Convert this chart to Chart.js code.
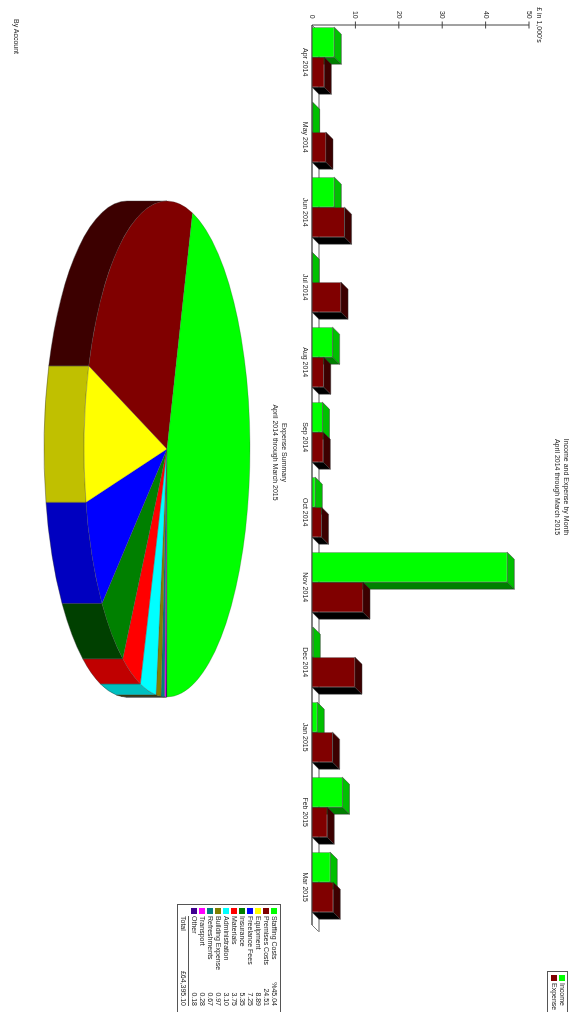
<!DOCTYPE html>
<html>
<head>
<meta charset="utf-8">
<title>Income and Expense</title>
<script src="https://cdn.jsdelivr.net/npm/chart.js@4"></script>
<style>
html, body { margin: 0; padding: 0; background: #fff; width: 585px; height: 1012px; overflow: hidden; }
/* the whole report was scanned sideways, so lay it out flat and turn it */
#page { position: absolute; left: 585px; top: 0; width: 1012px; height: 585px; overflow: hidden; background: #fff;
        transform-origin: 0 0; transform: rotate(90deg); will-change: transform; font: 7px "Liberation Sans", sans-serif; color: #222; }
canvas { position: absolute; }
#barChart { left: 0; top: 0; }
#pieChart { left: 193px; top: 295px; }
.box { position: absolute; border: 1px solid #555; box-sizing: border-box; background: #fff; }
.row { position: absolute; left: 0; right: 0; height: 8px; line-height: 8px; white-space: nowrap; }
.sw { position: absolute; width: 6px; height: 6px; top: 1px; }
.val { position: absolute; text-align: right; }
#account { position: absolute; left: 19px; top: 565px; line-height: 8px; }
</style>
</head>
<body>
<div id="page">
    <canvas id="barChart" width="974" height="290"></canvas>
    <canvas id="pieChart" width="520" height="290"></canvas>
    <div class="box" id="barLegend" style="left:971px;top:17px;width:60px;height:21px"></div>
    <div class="box" id="pieLegend" style="left:904px;top:304px;width:130px;height:104px"></div>
    <div id="account">By Account</div>
</div>
<script>
const months = ["Apr 2014", "May 2014", "Jun 2014", "Jul 2014", "Aug 2014", "Sep 2014", "Oct 2014", "Nov 2014", "Dec 2014", "Jan 2015", "Feb 2015", "Mar 2015"];
const income = [5.15, 0.15, 5.15, 0.05, 4.75, 2.4, 0.77, 45.0, 0.3, 1.2, 7.0, 4.2];
const expense = [2.85, 3.2, 7.5, 6.7, 2.7, 2.6, 2.2, 11.75, 9.9, 4.75, 3.5, 4.9];
const barTitle = ["Income and Expense by Month", "April 2014 through March 2015"];
const unitLabel = "£ in 1,000's";

const accounts = ["Staffing Costs", "Premises Costs", "Equipment", "Freelance Fees", "Insurance", "Materials", "Administration", "Building Expense", "Refreshments", "Transport", "Other"];
const shares = [45.04, 24.51, 8.89, 7.25, 5.35, 3.75, 3.10, 0.97, 0.67, 0.28, 0.18];
const shareLabels = ["%45.04", "24.51", "8.89", "7.25", "5.35", "3.75", "3.10", "0.97", "0.67", "0.28", "0.18"];
const sliceColors = ["#00ff00", "#800000", "#ffff00", "#0000ff", "#008000", "#ff0000", "#00ffff", "#808000", "#008080", "#ff00ff", "#400090"];
const sliceSides = ["#00c000", "#3c0000", "#c0c000", "#0000c0", "#004000", "#c00000", "#00c0c0", "#404000", "#004040", "#800080", "#200048"];
const totalLabel = "£64,395.10";
const pieTitle = ["Expense Summary", "April 2014 through March 2015"];

const FONT = '"Liberation Sans", sans-serif';
const TEXT = "#222";
const DEPTH = 7;        // bar depth
const PIE_Y = 83 / 248; // squash of the pie
const PIE_DEPTH = 40;

function axisLeft(chart) {
    return chart.scales.x.left + 5.3;
}

// the titles are not centred over the plots in the original
function titleShift(amount) {
    return {
        id: "titleShift",
        afterLayout(chart) {
            chart.titleBlock.left += amount;
        }
    };
}

// side faces and the floor go under the bars that Chart.js draws
const bars3d = {
    id: "bars3d",
    beforeDatasetsDraw(chart) {
        let ctx = chart.ctx;
        let left = axisLeft(chart);
        let right = left + chart.scales.x.width;
        let base = chart.scales.y.bottom;

        ctx.save();
        ctx.fillStyle = "#fff";
        ctx.strokeStyle = "#444";
        ctx.lineWidth = 0.7;
        ctx.beginPath();
        ctx.moveTo(left, base);
        ctx.lineTo(left + DEPTH, base - DEPTH);
        ctx.lineTo(right + DEPTH, base - DEPTH);
        ctx.lineTo(right, base);
        ctx.closePath();
        ctx.fill();
        ctx.stroke();
        ctx.strokeStyle = "#aaa";
        ctx.lineWidth = 1.5;
        ctx.beginPath();
        ctx.moveTo(left + DEPTH, base - DEPTH);
        ctx.lineTo(right + DEPTH, base - DEPTH);
        ctx.stroke();

        let faces = [{ top: "#00c000", side: "#008000" }, { top: "#3c0000", side: "#000000" }];
        ctx.strokeStyle = "#333";
        ctx.lineWidth = 0.5;
        months.forEach((m, i) => {
            faces.forEach((face, d) => {
                let bar = chart.getDatasetMeta(d).data[i];
                let x0 = bar.x - bar.width / 2;
                let x1 = bar.x + bar.width / 2;
                poly(ctx, face.side, [[x1, bar.y], [x1, bar.base], [x1 + DEPTH, bar.base - DEPTH], [x1 + DEPTH, bar.y - DEPTH]]);
                poly(ctx, face.top, [[x0, bar.y], [x1, bar.y], [x1 + DEPTH, bar.y - DEPTH], [x0 + DEPTH, bar.y - DEPTH]]);
            });
        });
        ctx.restore();
    },
    afterDatasetsDraw(chart) {
        let ctx = chart.ctx;
        let yScale = chart.scales.y;
        let left = axisLeft(chart);
        let right = left + chart.scales.x.width;

        ctx.save();
        ctx.strokeStyle = "#444";
        ctx.lineWidth = 1;
        ctx.beginPath();
        ctx.moveTo(left, yScale.top);
        ctx.lineTo(left, yScale.bottom);
        ctx.lineTo(right, yScale.bottom);
        yScale.ticks.forEach(t => {
            let py = yScale.getPixelForValue(t.value);
            if (t.value > 0) {
                ctx.moveTo(left - 3.5, py);
                ctx.lineTo(left + 3.5, py);
            }
        });
        ctx.stroke();
        ctx.fillStyle = TEXT;
        ctx.font = "7px " + FONT;
        ctx.textAlign = "center";
        ctx.fillText(unitLabel, left, yScale.top - 8);
        ctx.restore();
    }
};

function poly(ctx, color, pts) {
    ctx.fillStyle = color;
    ctx.beginPath();
    pts.forEach((p, i) => i ? ctx.lineTo(p[0], p[1]) : ctx.moveTo(p[0], p[1]));
    ctx.closePath();
    ctx.fill();
    ctx.stroke();
}

// tilts the flat pie into an ellipse and puts the rim under it
const pieTilt = {
    id: "pieTilt",
    beforeDatasetsDraw(chart) {
        let ctx = chart.ctx;
        let arcs = chart.getDatasetMeta(0).data;
        let cx = arcs[0].x, cy = arcs[0].y, r = arcs[0].outerRadius;
        let sides = sliceSides.slice().reverse();

        ctx.save();
        ctx.strokeStyle = "#333";
        ctx.lineWidth = 0.4;
        arcs.forEach((arc, i) => {
            let a0 = Math.max(arc.startAngle, 0);
            let a1 = Math.min(arc.endAngle, Math.PI);
            if (a1 <= a0) return;
            ctx.fillStyle = sides[i];
            ctx.beginPath();
            ctx.ellipse(cx, cy, r, r * PIE_Y, 0, a0, a1);
            ctx.ellipse(cx, cy + PIE_DEPTH, r, r * PIE_Y, 0, a1, a0, true);
            ctx.closePath();
            ctx.fill();
            ctx.stroke();
        });
        ctx.restore();

        ctx.save();
        ctx.translate(cx, cy);
        ctx.scale(1, PIE_Y);
        ctx.translate(-cx, -cy);
    },
    afterDatasetsDraw(chart) {
        chart.ctx.restore();
    }
};

new Chart(document.getElementById("barChart"), {
    type: "bar",
    data: {
        labels: months,
        datasets: [
            { label: "Income", data: income, backgroundColor: "#00ff00", borderColor: "#333", borderWidth: 0.5 },
            { label: "Expense", data: expense, backgroundColor: "#800000", borderColor: "#333", borderWidth: 0.5 }
        ]
    },
    options: {
        responsive: false,
        animation: false,
        categoryPercentage: 0.8,
        barPercentage: 1,
        layout: { padding: { left: 0, right: 54.3, top: 0, bottom: 0 } },
        plugins: {
            legend: { display: false },
            tooltip: { enabled: false },
            title: {
                display: true,
                text: barTitle,
                color: TEXT,
                font: { family: FONT, size: 7, weight: "normal", lineHeight: 1.2 },
                padding: { top: 15, bottom: 24.2 }
            }
        },
        scales: {
            x: {
                grid: { display: false, drawTicks: false },
                border: { display: false },
                ticks: { color: TEXT, font: { family: FONT, size: 7 }, maxRotation: 0, autoSkip: false, labelOffset: 5, padding: 3 },
                afterFit(scale) { scale.height = 17; }
            },
            y: {
                min: 0,
                max: 50,
                grid: { display: false, drawTicks: false },
                border: { display: false },
                ticks: { stepSize: 10, color: TEXT, font: { family: FONT, size: 7 }, padding: 1 },
                afterFit(scale) { scale.width = 19.7; }
            }
        }
    },
    plugins: [bars3d, titleShift(54.3)]
});

// Chart.js only turns clockwise, so the slices go in backwards and end at 3 o'clock
new Chart(document.getElementById("pieChart"), {
    type: "pie",
    data: {
        labels: accounts.slice().reverse(),
        datasets: [{
            data: shares.slice().reverse(),
            backgroundColor: sliceColors.slice().reverse(),
            borderColor: "#444",
            borderWidth: 0.4,
            clip: false
        }]
    },
    options: {
        responsive: false,
        animation: false,
        rotation: 90,
        radius: 248,
        layout: { padding: { left: 0, right: 8, top: 0, bottom: 64.8 } },
        plugins: {
            legend: { display: false },
            tooltip: { enabled: false },
            title: {
                display: true,
                text: pieTitle,
                color: TEXT,
                font: { family: FONT, size: 7, weight: "normal", lineHeight: 1.2 },
                padding: { top: 2, bottom: 2 }
            }
        }
    },
    plugins: [pieTilt, titleShift(7)]
});

function addRow(box, top, label, color, value) {
    let row = document.createElement("div");
    row.className = "row";
    row.style.top = top + "px";
    if (color) {
        let sw = document.createElement("div");
        sw.className = "sw";
        sw.style.left = "3px";
        sw.style.background = color;
        row.appendChild(sw);
    }
    let text = document.createElement("span");
    text.style.position = "absolute";
    text.style.left = "11px";
    text.textContent = label;
    row.appendChild(text);
    if (value) {
        let val = document.createElement("span");
        val.className = "val";
        val.style.left = "61px";
        val.style.width = "40px";
        val.textContent = value;
        row.appendChild(val);
    }
    box.appendChild(row);
}

let barLegend = document.getElementById("barLegend");
addRow(barLegend, 1, "Income", "#00ff00");
addRow(barLegend, 9, "Expense", "#800000");

let pieLegend = document.getElementById("pieLegend");
accounts.forEach((name, i) => addRow(pieLegend, 2 + i * 8, name, sliceColors[i], shareLabels[i]));
let rule = document.createElement("div");
rule.style.cssText = "position:absolute;left:11px;width:90px;top:" + (3 + accounts.length * 8) + "px;border-top:1px solid #555";
pieLegend.appendChild(rule);
addRow(pieLegend, 5 + accounts.length * 8, "Total", null, totalLabel);
</script>
</body>
</html>
